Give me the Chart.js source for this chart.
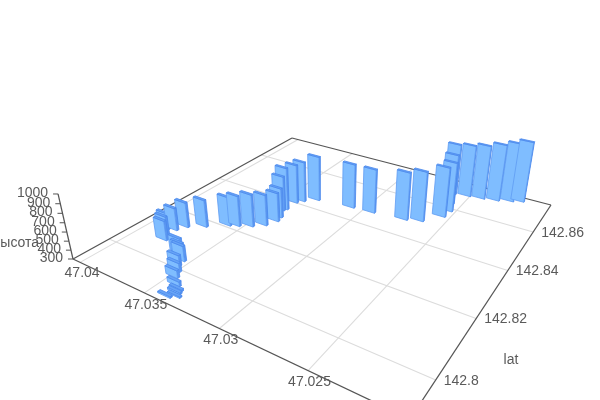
<!DOCTYPE html>
<html><head><meta charset="utf-8"><style>html,body{margin:0;background:#fff}canvas{display:block}</style>
<script src="https://cdn.jsdelivr.net/npm/chart.js@4"></script></head>
<body><canvas id="c" width="600" height="400"></canvas>
<script>
// values
const lonValues=[47.0381,47.0385,47.0389,47.0384,47.0381,47.0340,47.0336,47.0338,47.0339,47.0343,47.0349,47.0352,47.0356,47.0357,47.0361,47.0364,47.0372,47.0361,47.0356,47.0349,47.0343,47.0340,47.0341,47.0345,47.0344,47.0344,47.0341,47.0334,47.0310,47.0296,47.0275,47.0266,47.0257,47.0256,47.0259,47.0263,47.0254,47.0245,47.0236,47.0228,47.0222];
const latValues=[142.8070,142.8090,142.8110,142.8118,142.8144,142.7912,142.7923,142.7932,142.7941,142.7952,142.7972,142.7991,142.8008,142.8028,142.8040,142.8047,142.8171,142.8208,142.8219,142.8236,142.8259,142.8292,142.8313,142.8346,142.8356,142.8400,142.8418,142.8445,142.8460,142.8466,142.8479,142.8495,142.8547,142.8584,142.8624,142.8683,142.8693,142.8700,142.8711,142.8728,142.8742];
const heightValues=[526,512,490,560,590,317,314,322,322,351,385,400,420,472,451,471,615,636,655,675,659,636,647,710,798,761,780,832,824,818,857,881,883,882,896,913,922,946,979,1001,1025];
const lonTicks=[47.04,47.035,47.03,47.025];
const latTicks=[142.8,142.82,142.84,142.86];
const heightTicks=[300,400,500,600,700,800,900,1000];
const lonLabels=['47.04','47.035','47.03','47.025'];
const latLabels=['142.8','142.82','142.84','142.86'];
const latTitle='lat', heightTitle='высота';

// view of the 3D box
const cL=[73,259],cB=[410,419],cT=[292,138],cR=[551,205],vanish=[328,1368];
const wL=1.410,wT=2.058,wB=1,zS=-0.0781;
const lonHi=47.0406,lonLo=47.0202,latLo=142.7896,latHi=142.8767,zLo=300,zHi=1000;
const barLon=0.00085,barLat=0.0007;
function project(lon,lat,z){
  const u=(lonHi-lon)/(lonHi-lonLo),v=(lat-latLo)/(latHi-latLo),zn=(z-zLo)/(zHi-zLo)*zS;
  const w=wL+u*(wB-wL)+v*(wT-wL)+zn;
  const X=wL*cL[0]+u*(wB*cB[0]-wL*cL[0])+v*(wT*cT[0]-wL*cL[0])+zn*vanish[0];
  const Y=wL*cL[1]+u*(wB*cB[1]-wL*cL[1])+v*(wT*cT[1]-wL*cL[1])+zn*vanish[1];
  return {x:X/w,y:Y/w,w};
}
const marks=[];
function seg(a,b,color,width){marks.push({data:[a,b],showLine:true,borderColor:color,borderWidth:width,pointRadius:0,fill:false,tension:0});}
function face(pts,fillC,edge){marks.push({data:[...pts,pts[0]],showLine:true,borderColor:edge,borderWidth:0.8,backgroundColor:fillC,pointRadius:0,fill:'shape',tension:0});}
// floor grid
lonTicks.forEach(t=>seg(project(t,latLo,zLo),project(t,latHi,zLo),'#dcdcdc',1.1));
latTicks.forEach(t=>seg(project(lonHi,t,zLo),project(lonLo,t,zLo),'#dcdcdc',1.1));
// box edges
const axisC='#555';
seg(project(lonHi,latLo,zLo),project(lonLo,latLo,zLo),axisC,1.25);
seg(project(lonLo,latLo,zLo),project(lonLo,latHi,zLo),axisC,1.25);
seg(project(lonLo,latHi,zLo),project(lonHi,latHi,zLo),axisC,1.25);
seg(project(lonHi,latHi,zLo),project(lonHi,latLo,zLo),axisC,1.25);
seg(project(lonHi,latLo,zLo),project(lonHi,latLo,zHi),axisC,1.25);
// tick marks on the height axis
heightTicks.forEach(t=>{const p=project(lonHi,latLo,t);seg(p,{x:p.x-5,y:p.y},axisC,1);});
// bars, far ones first
const order=lonValues.map((_,i)=>i).sort((a,b)=>project(lonValues[b],latValues[b],zLo).w-project(lonValues[a],latValues[a],zLo).w);
order.forEach(i=>{
  const lo=lonValues[i],la=latValues[i],h=heightValues[i];
  const l0=lo+barLon/2,l1=lo-barLon/2,a0=la,a1=la+barLat;
  const P=(x,y,z)=>project(x,y,z);
  face([P(l1,a0,zLo),P(l1,a1,zLo),P(l1,a1,h),P(l1,a0,h)],'#5a96f0','#4a88ec');
  face([P(l0,a0,zLo),P(l1,a0,zLo),P(l1,a0,h),P(l0,a0,h)],'#7fbdff','#5f9cf2');
  face([P(l0,a0,h),P(l1,a0,h),P(l1,a1,h),P(l0,a1,h)],'#67a4f6','#4a88ec');
});
const labelPlugin={id:'labels',afterDatasetsDraw(chart){
  const c=chart.ctx;c.save();c.fillStyle='#5a5a5a';c.font='14px "Liberation Sans", Arial, sans-serif';c.textBaseline='middle';
  c.textAlign='center';
  lonTicks.forEach((t,i)=>{const p=project(t,latLo,zLo);c.fillText(lonLabels[i],p.x+(i==0?2:1.5),p.y+(i==0?11:12));});
  c.textAlign='left';
  latTicks.forEach((t,i)=>{const p=project(lonLo,t,zLo);c.fillText(latLabels[i],p.x+8,p.y+1);});
  c.textAlign='right';
  heightTicks.forEach(t=>{const p=project(lonHi,latLo,t);c.fillText(String(t),p.x-10,p.y-1);});
  c.textAlign='center';
  c.fillText(latTitle,511,360);
  c.fillText(heightTitle,16,243);
  c.restore();
}};
new Chart(document.getElementById('c'),{
  type:'scatter',
  data:{datasets:marks.slice().reverse()},
  options:{responsive:false,animation:false,clip:false,
    layout:{padding:0},
    scales:{x:{type:'linear',min:0,max:600,display:false},y:{type:'linear',min:0,max:400,reverse:true,display:false}},
    plugins:{legend:{display:false},tooltip:{enabled:false}},
    events:[]},
  plugins:[labelPlugin]
});
</script></body></html>
